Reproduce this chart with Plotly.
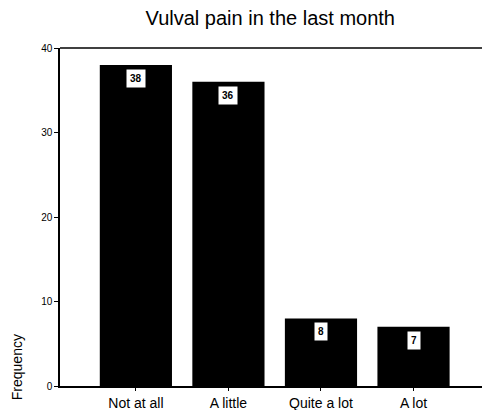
import plotly.graph_objects as go

categories = ["Not at all", "A little", "Quite a lot", "A lot"]
frequency = [38, 36, 8, 7]
y_ticks = [0, 10, 20, 30, 40]

font = "Liberation Sans, Arial, sans-serif"

fig = go.Figure()
fig.add_trace(go.Bar(
    x=categories, y=frequency,
    marker=dict(color="black", line=dict(width=0)),
    width=0.78,
    hoverinfo="skip",
))

# value labels in small white boxes just under the bar tops
for c, v in zip(categories, frequency):
    fig.add_annotation(
        x=c, y=v, text=f"<b>{v}</b>", showarrow=False,
        yanchor="top", yshift=-4,
        bgcolor="white", borderpad=3,
        font=dict(family=font, size=10, color="black"),
    )

fig.add_annotation(
    text="Frequency", xref="paper", yref="paper",
    x=-0.1, y=0.055, textangle=-90, showarrow=False,
    xanchor="center", yanchor="middle",
    font=dict(family=font, size=14, color="black"),
)

# top frame line
fig.add_shape(type="line", xref="paper", yref="paper",
              x0=0, x1=1, y0=1, y1=1,
              line=dict(color="black", width=1.5))

fig.update_layout(
    width=487, height=410,
    margin=dict(l=60, r=5, t=48, b=24),
    paper_bgcolor="white", plot_bgcolor="white",
    showlegend=False,
    title=dict(text="Vulval pain in the last month", x=0.555, y=0.955,
               xanchor="center", yanchor="middle",
               font=dict(family=font, size=20, color="black")),
    xaxis=dict(
        range=[-0.82, 3.74], automargin=False,
        showline=True, linecolor="black", linewidth=1.5,
        ticks="outside", ticklen=3, tickcolor="black",
        tickfont=dict(family=font, size=14, color="black"),
        showgrid=False, zeroline=False, fixedrange=True,
    ),
    yaxis=dict(
        range=[0, 40], tickvals=y_ticks, automargin=False,
        showline=True, linecolor="black", linewidth=1.5,
        ticks="outside", ticklen=4, tickcolor="black",
        tickprefix="<b>", ticksuffix="</b>",
        tickfont=dict(family=font, size=10, color="black"),
        showgrid=False, zeroline=False, fixedrange=True,
    ),
)

fig.write_html("out.html", config={"displayModeBar": False},
               post_script="document.body.style.margin='0';")
